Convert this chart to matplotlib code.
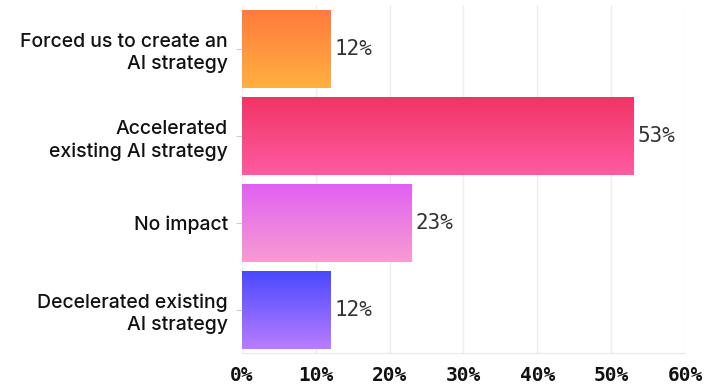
import os
import matplotlib
import matplotlib.pyplot as plt
import numpy as np
from matplotlib.colors import LinearSegmentedColormap
from matplotlib.font_manager import FontProperties

# data
categories = ['Forced us to create an\nAI strategy',
              'Accelerated\nexisting AI strategy',
              'No impact',
              'Decelerated existing\nAI strategy']
values = [12, 53, 23, 12]
# gradient colours (top, bottom) per bar
grad_colors = [('#ff7a3c', '#ffb040'),
               ('#f03464', '#ff5ba2'),
               ('#e060f2', '#f89cd2'),
               ('#4848ff', '#b97dff')]
xticks = [0, 10, 20, 30, 40, 50, 60]

# use the mono fonts shipped with matplotlib directly
ttf_dir = os.path.join(matplotlib.get_data_path(), 'fonts', 'ttf')
mono = FontProperties(fname=os.path.join(ttf_dir, 'DejaVuSansMono.ttf'), size=15)
mono_b = FontProperties(fname=os.path.join(ttf_dir, 'DejaVuSansMono-Bold.ttf'), size=14)
sans = FontProperties(family='Inter', size=14, weight='medium')

fig = plt.figure(figsize=(7.09, 3.87), dpi=100)
ax = fig.add_axes((0.3413, 0.0866, 0.6247, 0.8992))

ypos = np.arange(len(categories))
bars = ax.barh(ypos, values, height=0.9, color='none', edgecolor='none', zorder=2)

grad = np.linspace(0, 1, 256).reshape(-1, 1)
for bar, (top, bottom) in zip(bars, grad_colors):
    cmap = LinearSegmentedColormap.from_list('g', [top, bottom])
    x0, y0 = bar.get_x(), bar.get_y()
    w, h = bar.get_width(), bar.get_height()
    # y axis is inverted, so extent bottom/top go the other way
    im = ax.imshow(grad, cmap=cmap, aspect='auto', zorder=2,
                   extent=(x0, x0 + w, y0 + h, y0), interpolation='bicubic')
    im.set_clip_path(bar)

for v, y in zip(values, ypos):
    ax.text(v + 0.55, y, f'{v}%', va='center', ha='left',
            color='#333333', fontproperties=mono)

ax.set_ylim(3.5, -0.5)
ax.set_xlim(0, 60)
ax.set_yticks(ypos)
ax.set_yticklabels(categories, color='#111111', fontproperties=sans,
                   ha='right', linespacing=1.3)
ax.set_xticks(xticks)
ax.set_xticklabels([f'{t}%' for t in xticks], fontproperties=mono_b,
                   color='#111111')
ax.tick_params(axis='y', length=4, color='#cccccc', pad=6)
ax.tick_params(axis='x', length=0, pad=9)

ax.grid(axis='x', color='#eeeeee', linewidth=1, zorder=0)
ax.set_axisbelow(True)
for s in ['top', 'right', 'left']:
    ax.spines[s].set_visible(False)
ax.spines['bottom'].set_color('#e8e8e8')

fig.savefig('out.png', dpi=100)
